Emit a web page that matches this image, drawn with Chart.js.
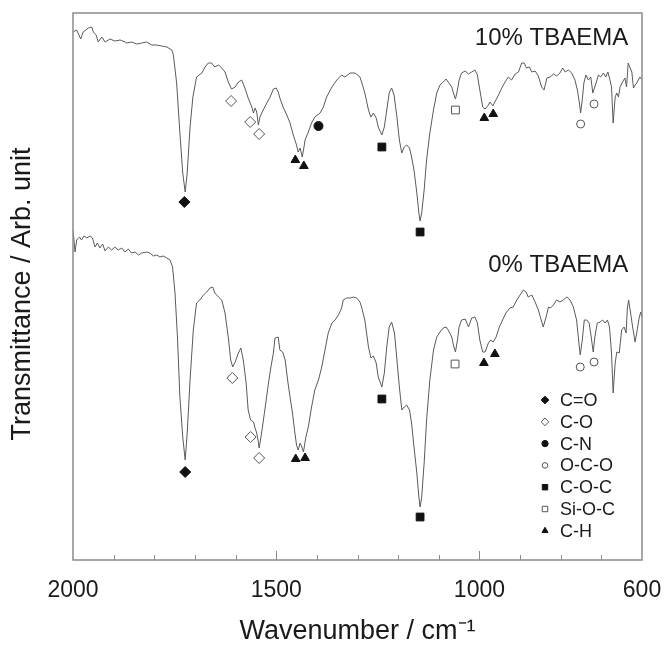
<!DOCTYPE html>
<html>
<head>
<meta charset="utf-8">
<script src="https://cdn.jsdelivr.net/npm/chart.js@4.4.1/dist/chart.umd.min.js"></script>
<style>
html,body{margin:0;padding:0;background:#fff;}
</style>
</head>
<body>
<canvas id="graphique" width="665" height="648"></canvas>
<script>
//Spectre 10% TBAEMA (nombre d'onde en cm-1, transmittance en unite arbitraire)
var nombresOnde10 = [2000,1991,1981,1975,1962,1954,1950,1943,1938,1929,1921,1909,1897,1884,1872,1868,1856,1843,1831,1819,1806,1794,1782,1769,1757,1753,1745,1737,1730,1724,1719,1712,1705,1696,1683,1675,1667,1659,1651,1642,1634,1626,1618,1610,1601,1593,1585,1577,1569,1560,1556,1552,1548,1544,1540,1532,1523,1515,1507,1500,1495,1491,1483,1474,1466,1458,1450,1446,1441,1436,1432,1429,1421,1413,1405,1392,1384,1376,1363,1351,1339,1331,1318,1306,1294,1290,1282,1273,1267,1261,1254,1249,1240,1234,1228,1222,1216,1210,1203,1197,1191,1185,1179,1172,1167,1161,1154,1149,1146,1142,1136,1130,1122,1113,1105,1097,1089,1082,1077,1068,1064,1059,1054,1050,1044,1035,1027,1019,1011,1005,999,992,986,978,974,967,962,953,945,937,929,921,912,904,896,890,884,877,871,863,855,847,841,834,826,818,810,802,795,789,781,773,765,759,754,751,747,743,738,732,726,721,717,713,707,702,695,689,684,680,675,671,666,662,658,654,648,642,638,634,629,625,621,617,613,609,605,600];
var transmittance10 = [528,530,521,528,532,533,528,525,518,523,518,521,519,520,518,517,518,516,517,518,515,515,514,513,510,505,477,427,387,368,387,433,463,483,487,493,497,497,493,495,492,488,478,471,473,478,480,472,462,453,447,452,448,435,443,450,457,463,471,472,468,462,453,445,437,425,415,408,412,403,412,420,428,437,443,447,453,463,473,480,485,483,487,487,483,478,467,450,443,447,442,433,425,433,450,467,472,465,443,420,407,413,415,412,403,390,367,347,339,347,370,400,427,450,467,475,478,481,478,473,467,461,470,480,487,489,486,488,490,485,470,453,451,455,458,454,458,465,472,478,483,480,486,488,497,497,492,493,488,489,484,473,470,482,483,486,484,487,492,488,490,487,480,470,457,447,460,477,485,480,483,467,472,477,485,483,487,483,488,482,473,437,463,467,463,473,478,482,473,497,492,488,472,475,477,480,483,480];

//Spectre 0% TBAEMA
var nombresOnde0 = [2000,1995,1991,1984,1979,1973,1966,1958,1952,1946,1940,1934,1927,1921,1913,1905,1897,1889,1880,1872,1864,1856,1847,1839,1831,1819,1811,1802,1794,1786,1778,1769,1761,1755,1749,1743,1737,1730,1724,1719,1712,1704,1696,1688,1679,1671,1663,1656,1651,1642,1634,1626,1618,1612,1607,1601,1593,1587,1581,1574,1569,1563,1556,1552,1548,1544,1542,1536,1528,1519,1513,1507,1503,1495,1491,1484,1478,1472,1466,1460,1455,1450,1446,1441,1437,1433,1427,1421,1413,1405,1396,1388,1380,1372,1363,1355,1347,1339,1335,1327,1318,1310,1302,1294,1290,1282,1273,1267,1261,1254,1249,1240,1234,1228,1222,1216,1209,1203,1197,1191,1185,1179,1172,1167,1161,1154,1149,1146,1142,1136,1130,1122,1113,1105,1097,1089,1082,1077,1068,1064,1059,1054,1050,1044,1035,1027,1019,1011,1005,999,992,986,978,972,966,959,951,943,935,925,917,908,900,892,885,880,871,863,855,848,843,836,830,825,818,810,802,794,785,777,769,761,756,752,747,742,736,730,724,720,716,710,703,697,691,685,680,675,671,666,662,656,650,644,639,636,633,628,623,617,613,607,603,600];
var transmittance0 = [330,308,320,323,320,324,322,324,322,313,317,312,316,309,313,310,313,310,312,308,311,307,308,305,307,308,307,304,305,303,304,302,300,293,267,223,163,123,100,127,180,230,257,260,265,268,272,273,267,263,260,247,223,200,193,198,207,212,200,177,150,140,138,132,127,118,112,127,150,177,193,207,222,223,210,208,200,180,163,147,130,115,110,117,113,108,123,133,153,170,180,193,210,227,237,240,245,252,260,262,262,263,262,258,253,240,213,202,204,197,183,173,187,213,233,238,227,200,173,150,153,155,150,137,113,87,63,53,63,97,140,180,210,223,228,232,233,230,223,215,208,220,233,240,241,233,242,243,237,220,208,208,217,220,218,223,233,240,247,252,253,260,265,270,268,263,265,258,250,240,233,243,253,252,255,260,258,260,263,260,253,240,220,205,220,240,240,237,220,208,223,237,238,240,237,240,233,207,167,197,208,207,230,233,227,252,260,247,233,218,227,242,248,243];

//Attribution des bandes (les deux spectres)
var nomsBandes = ['C=O','C-O','C-N','O-C-O','C-O-C','Si-O-C','C-H'];
var picsCdO = [1726,1724];
var valCdO = [358,88];
var picsCO = [1611,1564,1542,1608,1563,1542];
var valCO = [459,438,426,182,123,102];
var picsCN = [1396];
var valCN = [434];
var picsOCO = [751,718,752,718];
var valOCO = [436,456,193,198];
var picsCOC = [1240,1146,1240,1146];
var valCOC = [413,328,161,43];
var picsSiOC = [1059,1060];
var valSiOC = [450,196];
var picsCH = [1453,1432,988,966,1452,1429,989,962];
var valCH = [400,394,442,446,101,102,197,206];

//Etiquettes des spectres
var nomsSpectres = ['10% TBAEMA','0% TBAEMA'];
var ondeEtiquettes = [634,634];
var valEtiquettes = [522,295];

//Graduations de l'axe x
var ticksLabels = [2000,1500,1000,600];
var ticksMineurs = [1900,1800,1700,1600,1500,1400,1300,1200,1100,1000,900,800,700];
var ticksMajeurs = [1500,1000];

var police = "'Liberation Sans', Arial, sans-serif";
var noir = '#1a1a1a';

function points(xs, ys){
	return xs.map(function(v,i){ return {x:v, y:ys[i]}; });
}

//style de chaque bande : forme, plein ou vide, rayon
var styles = [
	{forme:'rectRot', plein:true, r:5.5},
	{forme:'rectRot', plein:false, r:5.5},
	{forme:'circle', plein:true, r:4.5},
	{forme:'circle', plein:false, r:4},
	{forme:'rect', plein:true, r:5.5},
	{forme:'rect', plein:false, r:5.5},
	{forme:'triangle', plein:true, r:5}
];
var donneesBandes = [
	points(picsCdO,valCdO), points(picsCO,valCO), points(picsCN,valCN), points(picsOCO,valOCO),
	points(picsCOC,valCOC), points(picsSiOC,valSiOC), points(picsCH,valCH)
];

var datasets = [];
for(let i = 0 ; i < nomsBandes.length ; i++){
	let s = styles[i];
	datasets.push({
		type:'scatter', label:nomsBandes[i], data:donneesBandes[i], order:0,
		pointStyle:s.forme, pointRadius:s.r, pointHoverRadius:s.r,
		backgroundColor: s.plein ? '#111' : '#fff',
		borderColor: s.plein ? '#111' : '#555', borderWidth:1
	});
}
datasets.push({label:'10% TBAEMA', data:points(nombresOnde10,transmittance10), order:1,
	borderColor:'#5a5a5a', borderWidth:1, pointRadius:0, fill:false, tension:0});
datasets.push({label:'0% TBAEMA', data:points(nombresOnde0,transmittance0), order:1,
	borderColor:'#5a5a5a', borderWidth:1, pointRadius:0, fill:false, tension:0});

//Cadre, graduations, etiquettes et legende
var cadre = {
	id:'cadre',
	afterDraw: function(chart){
		var ctx = chart.ctx, a = chart.chartArea, sx = chart.scales.x, sy = chart.scales.y;
		ctx.save();
		ctx.strokeStyle = '#8a8a8a';
		ctx.lineWidth = 1.5;
		ctx.strokeRect(a.left, a.top, a.right - a.left, a.bottom - a.top);
		ctx.beginPath();
		ticksMineurs.forEach(function(v){
			var px = Math.round(sx.getPixelForValue(v)) + 0.5;
			var l = ticksMajeurs.indexOf(v) >= 0 ? 9 : 5;
			ctx.moveTo(px, a.bottom);
			ctx.lineTo(px, a.bottom - l);
		});
		ctx.lineWidth = 1;
		ctx.stroke();

		ctx.fillStyle = noir;
		ctx.font = '24px ' + police;
		ctx.textAlign = 'right';
		ctx.textBaseline = 'middle';
		for(let i = 0 ; i < nomsSpectres.length ; i++){
			ctx.fillText(nomsSpectres[i], sx.getPixelForValue(ondeEtiquettes[i]), sy.getPixelForValue(valEtiquettes[i]));
		}

		//legende
		ctx.font = '18px ' + police;
		ctx.textAlign = 'left';
		for(let i = 0 ; i < nomsBandes.length ; i++){
			var y = 400 + i * 21.8;
			var s = styles[i];
			ctx.fillStyle = s.plein ? '#111' : '#fff';
			ctx.strokeStyle = s.plein ? '#111' : '#555';
			ctx.lineWidth = 1;
			Chart.helpers.drawPoint(ctx, {pointStyle:s.forme, radius:s.r * 0.7, rotation:0, borderWidth:1}, 545, y);
			ctx.fillStyle = noir;
			ctx.fillText(nomsBandes[i], 560, y + 1);
		}
		ctx.restore();
	}
};

var config = {
	type:'line',
	data:{datasets:datasets},
	options:{
		responsive:false,
		animation:false,
		layout:{padding:{top:13, right:23, left:0, bottom:0}},
		plugins:{legend:{display:false}, tooltip:{enabled:false}},
		scales:{
			x:{
				type:'linear', reverse:true, min:600, max:2000,
				afterFit:function(s){ s.height = 88; s.paddingLeft = 0; s.paddingRight = 0; },
				afterBuildTicks:function(s){ s.ticks = ticksLabels.map(function(v){ return {value:v}; }); },
				grid:{display:false, drawTicks:false},
				border:{display:false},
				ticks:{font:{family:police, size:23}, color:noir, padding:17, maxRotation:0, autoSkip:false,
					callback:function(v){ return String(v); }},
				title:{display:true, text:'Wavenumber / cm\u207B\u00B9', font:{family:police, size:27}, color:noir, padding:{top:0, bottom:0}}
			},
			y:{
				min:0, max:547,
				afterFit:function(s){ s.width = 73; },
				grid:{display:false},
				border:{display:false},
				ticks:{display:false},
				title:{display:true, text:'Transmittance / Arb. unit  ', font:{family:police, size:27}, color:noir, padding:{top:6, bottom:0}}
			}
		}
	},
	plugins:[cadre]
};

var graph = new Chart(document.getElementById('graphique').getContext('2d'), config);
</script>
</body>
</html>
